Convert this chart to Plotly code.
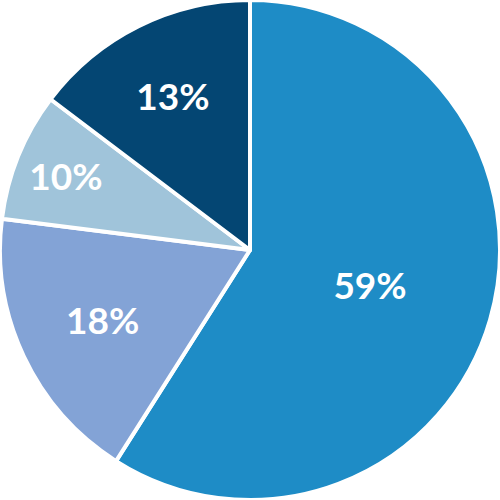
import plotly.graph_objects as go

# fatias do gráfico, em sentido horário a partir das 12h
# (tamanho das fatias medido no desenho; o rótulo é o texto impresso)
rotulos = ['59%', '18%', '10%', '13%']
valores = [59, 18, 8.3, 14.7]
cores = ['#1e8cc6', '#83a3d6', '#a0c4da', '#044673']

pizza = go.Pie(labels=rotulos,
               values=valores,
               sort=False,
               direction='clockwise',
               rotation=0,
               textinfo='label',
               textposition='inside',
               insidetextorientation='horizontal',
               textfont={'family': 'Lato', 'size': 37, 'color': 'white', 'weight': 'bold'},
               marker={'colors': cores, 'line': {'color': 'white', 'width': 4}},
               hoverinfo='skip')

layout = go.Layout(width=500, height=500,
                   margin={'l': 0, 'r': 0, 't': 0, 'b': 0},
                   paper_bgcolor='white',
                   showlegend=False)

fig = go.Figure(data=[pizza], layout=layout)
# tira a margem padrão do body para o gráfico ocupar a janela toda
fig.write_html("out.html", config={'displayModeBar': False},
               post_script="document.body.style.margin='0';")
